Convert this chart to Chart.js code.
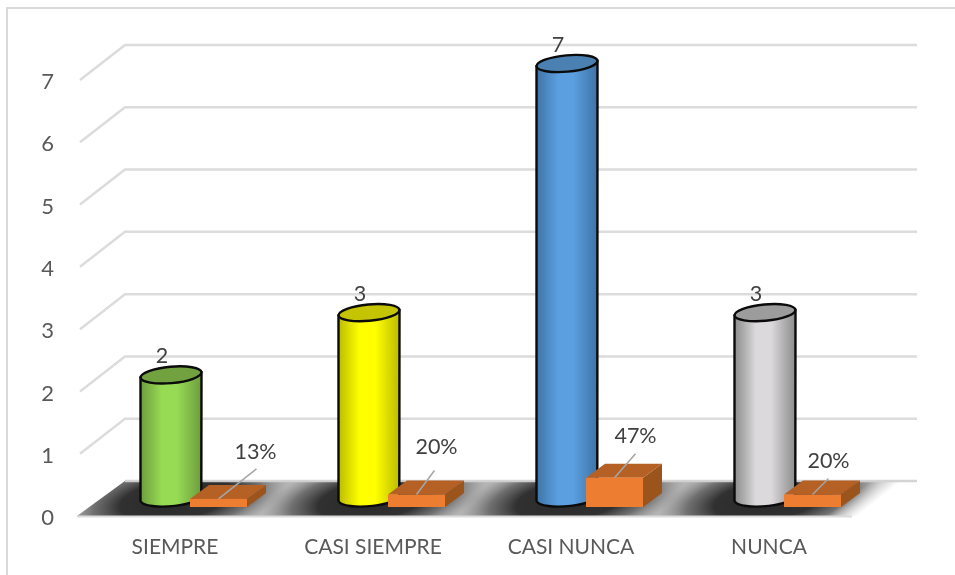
<!DOCTYPE html>
<html>
<head>
<meta charset="utf-8">
<style>
html,body{margin:0;padding:0;background:#fff;overflow:hidden}
#frame{position:absolute;left:6px;top:7px;width:949px;height:568px;border-left:2px solid #d9d9d9;border-top:2px solid #d9d9d9;box-sizing:border-box}
canvas{position:absolute;left:0;top:0;filter:blur(0.35px)}
</style>
<script src="https://cdn.jsdelivr.net/npm/chart.js@4"></script>
</head>
<body>
<canvas id="c" width="955" height="575"></canvas>
<div id="frame"></div>
<script>
const categories = ['SIEMPRE', 'CASI SIEMPRE', 'CASI NUNCA', 'NUNCA'];
const counts = [2, 3, 7, 3];
const shares = [0.13, 0.20, 0.47, 0.20];
const yTicks = [0, 1, 2, 3, 4, 5, 6, 7];
const cylinderMid = ['#97db54', '#ffff00', '#5b9fe0', '#dbd9db'];
const cylinderEdge = ['#6d9c3e', '#bcbc00', '#3f73a6', '#8c8c8c'];
const cylinderTop = ['#71a23f', '#c4c400', '#4a80b2', '#9c9c9c'];
const boxFront = '#ed7d31', boxTop = '#b56024', boxSide = '#9c541d';

const DX = 45, DY = 35;
const view3d = {
  id: 'view3d',
  beforeDatasetsDraw(chart) {
    const {ctx, scales: {x, y}} = chart;
    const fl = x.left + 4, fr = x.right + 4, y0 = y.getPixelForValue(0);
    ctx.save();
    // grid on side and back wall
    ctx.strokeStyle = '#dcdcdc'; ctx.lineWidth = 2.5; ctx.lineJoin = 'round';
    y.ticks.forEach(t => {
      const py = y.getPixelForValue(t.value);
      if (t.value === 0) return;
      ctx.beginPath(); ctx.moveTo(fl, py); ctx.lineTo(fl + DX, py - DY); ctx.lineTo(fr + DX, py - DY); ctx.stroke();
    });
    // floor
    ctx.save();
    ctx.beginPath();
    ctx.moveTo(fl - 3, y0); ctx.lineTo(fr + 10, y0); ctx.lineTo(fr + 10 + DX, y0 - DY); ctx.lineTo(fl + DX, y0 - DY); ctx.closePath();
    ctx.clip();
    ctx.fillStyle = '#b4b4b4';
    ctx.fillRect(fl - 5, y0 - DY - 2, fr - fl + DX + 20, DY + 4);
    categories.forEach((c, i) => {
      const cx = x.getPixelForValue(i) + 1;
      ctx.save();
      ctx.translate(cx, y0 - 17);
      ctx.transform(1, 0, -0.9, 1, 0, 0);
      ctx.scale(1, 0.42);
      const g = ctx.createRadialGradient(0, 0, 10, 0, 0, 104);
      g.addColorStop(0, 'rgba(42,42,42,1)');
      g.addColorStop(0.45, 'rgba(46,46,46,0.98)');
      g.addColorStop(0.72, 'rgba(70,70,70,0.62)');
      g.addColorStop(1, 'rgba(120,120,120,0)');
      ctx.fillStyle = g;
      ctx.fillRect(-120, -120, 240, 240);
      ctx.restore();
    });
    ctx.restore();
    // fade at the right end, painted past the floor edge so no sliver stays
    const fade = ctx.createLinearGradient(fr - 34, y0 - 9, fr - 22, y0 + 6);
    fade.addColorStop(0, 'rgba(255,255,255,0)');
    fade.addColorStop(1, 'rgba(255,255,255,1)');
    ctx.fillStyle = fade;
    ctx.fillRect(fr - 60, y0 - DY - 2, DX + 90, DY + 5);
    // floor edges
    ctx.strokeStyle = '#dcdcdc'; ctx.lineWidth = 2;
    ctx.beginPath(); ctx.moveTo(fl - 3, y0 + 0.5); ctx.lineTo(fr - 20, y0 + 0.5); ctx.stroke();
    ctx.strokeStyle = 'rgba(210,210,210,0.95)'; ctx.lineWidth = 2.5;
    ctx.beginPath(); ctx.moveTo(fl + DX, y0 - DY); ctx.lineTo(fr + DX, y0 - DY); ctx.stroke();
    ctx.restore();
  },
  beforeDatasetDraw(chart, args) {
    const {ctx, scales: {y}} = chart;
    const els = chart.getDatasetMeta(args.index).data;
    const y0 = y.getPixelForValue(0);
    ctx.save();
    if (args.index === 0) {
      const rx = 30.5, ry = 8.2, rot = -0.09, tiltY = 2.7;
      els.forEach((el, i) => {
        const cx = el.x - 4, top = el.y - 16.5, bot = y0 - 18;
        const g = ctx.createLinearGradient(cx - rx, 0, cx + rx, 0);
        g.addColorStop(0, cylinderEdge[i]);
        g.addColorStop(0.35, cylinderMid[i]);
        g.addColorStop(0.6, cylinderMid[i]);
        g.addColorStop(1, cylinderEdge[i]);
        ctx.beginPath();
        ctx.moveTo(cx - rx, top + tiltY);
        ctx.lineTo(cx - rx, bot + tiltY);
        ctx.ellipse(cx, bot, rx, ry, rot, Math.PI - 0.1, 0.1, true);
        ctx.lineTo(cx + rx, top - tiltY);
        ctx.closePath();
        ctx.fillStyle = g; ctx.fill();
        ctx.strokeStyle = '#0b0b0b'; ctx.lineWidth = 2.4; ctx.stroke();
        ctx.beginPath();
        ctx.ellipse(cx, top, rx, ry, rot, 0, Math.PI * 2);
        ctx.fillStyle = cylinderTop[i]; ctx.fill();
        ctx.stroke();
      });
    } else {
      const w = 57, lift = 9, dx = 19, dy = 14;
      els.forEach((el, i) => {
        const l = el.x + 15, r = l + w, t = el.y - lift, b = y0 - lift;
        ctx.fillStyle = boxSide;
        ctx.beginPath(); ctx.moveTo(r, t); ctx.lineTo(r + dx, t - dy); ctx.lineTo(r + dx, b - dy); ctx.lineTo(r, b); ctx.closePath(); ctx.fill();
        ctx.fillStyle = boxTop;
        ctx.beginPath(); ctx.moveTo(l, t); ctx.lineTo(l + dx, t - dy); ctx.lineTo(r + dx, t - dy); ctx.lineTo(r, t); ctx.closePath(); ctx.fill();
        ctx.fillStyle = boxFront;
        ctx.fillRect(l, t, w, b - t);
      });
    }
    ctx.restore();
    return false;
  },
  afterDatasetsDraw(chart) {
    const {ctx} = chart;
    const countEls = chart.getDatasetMeta(0).data;
    const shareEls = chart.getDatasetMeta(1).data;
    const leaderTo = [[38, -30], [18, -24], [21, -24], [16, -16]];
    const textAt = [[37, -47], [20, -47], [21, -42], [16, -33]];
    ctx.save();
    ctx.textAlign = 'center'; ctx.textBaseline = 'middle';
    ctx.font = '21.5px Lato'; ctx.fillStyle = '#404040';
    countEls.forEach((el, i) => ctx.fillText(String(counts[i]), el.x - 13, el.y - 35));
    shareEls.forEach((el, i) => {
      const bx = el.x + 15 + 28.5, by = el.y - 9;
      ctx.strokeStyle = '#a6a6a6'; ctx.lineWidth = 1.5;
      ctx.beginPath(); ctx.moveTo(bx, by); ctx.lineTo(bx + leaderTo[i][0], by + leaderTo[i][1]); ctx.stroke();
      ctx.fillText(Math.round(shares[i] * 100) + '%', bx + textAt[i][0], by + textAt[i][1]);
    });
    ctx.restore();
  }
};

new Chart(document.getElementById('c'), {
  type: 'bar',
  data: {
    labels: categories,
    datasets: [
      {label: 'Cantidad', data: counts, backgroundColor: cylinderMid, grouped: false, order: 2},
      {label: 'Porcentaje', data: shares, backgroundColor: boxFront, grouped: false, order: 1}
    ]
  },
  plugins: [view3d],
  options: {
    responsive: false,
    animation: false,
    layout: {padding: {left: 0, top: 80, right: 87, bottom: 0}},
    plugins: {legend: {display: false}, tooltip: {enabled: false}},
    scales: {
      x: {
        grid: {display: false}, border: {display: false},
        afterFit(s) { s.height = 59; },
        ticks: {font: {family: 'Lato', size: 21}, color: '#595959', padding: 11, maxRotation: 0}
      },
      y: {
        min: 0, max: 7,
        grid: {display: false}, border: {display: false},
        afterFit(s) { s.width = 76; },
        afterBuildTicks(s) { s.ticks = yTicks.map(v => ({value: v})); },
        ticks: {font: {family: 'Lato', size: 22}, color: '#595959', padding: 14, labelOffset: 2}
      }
    }
  }
});
</script>
</body>
</html>
